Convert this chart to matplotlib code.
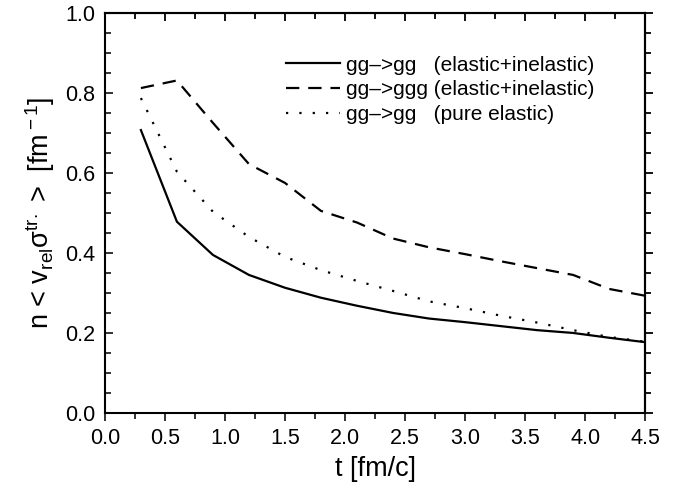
#!/usr/bin/env python3
# -*- coding: utf-8 -*-

"""Transport rate n<v_rel sigma_tr> versus time for three gluon processes"""

import matplotlib
matplotlib.use('Agg')
import matplotlib.pyplot as plt
from matplotlib.ticker import MultipleLocator, FormatStrFormatter

# time [fm/c]
t = [0.3, 0.6, 0.9, 1.2, 1.5, 1.8, 2.1, 2.4, 2.7, 3.0, 3.3, 3.6, 3.9, 4.2, 4.5]

# gg->gg (elastic+inelastic)
gg_el_inel = [0.707, 0.478, 0.395, 0.345, 0.313, 0.288, 0.268, 0.250, 0.236,
              0.227, 0.217, 0.207, 0.200, 0.188, 0.177]
# gg->ggg (elastic+inelastic)
ggg_el_inel = [0.812, 0.831, 0.725, 0.622, 0.575, 0.505, 0.476, 0.436, 0.414,
               0.397, 0.379, 0.362, 0.345, 0.310, 0.293]
# gg->gg (pure elastic)
gg_el = [0.787, 0.603, 0.503, 0.440, 0.390, 0.357, 0.330, 0.305, 0.279,
         0.262, 0.243, 0.226, 0.207, 0.190, 0.178]

labels = ['gg\u2013>gg   (elastic+inelastic)',
          'gg\u2013>ggg (elastic+inelastic)',
          'gg\u2013>gg   (pure elastic)']

plt.rcParams['font.family'] = ['Liberation Sans', 'DejaVu Sans']
plt.rcParams['mathtext.fontset'] = 'custom'
plt.rcParams['mathtext.rm'] = 'Liberation Sans'
plt.rcParams['mathtext.it'] = 'Liberation Sans'

fig = plt.figure(figsize=(6.9, 4.94), dpi=100)
ax = fig.add_axes([0.152, 0.164, 0.783, 0.810])

ax.plot(t, gg_el_inel, color='black', linewidth=1.6, label=labels[0])
ax.plot(t, ggg_el_inel, color='black', linewidth=1.6, linestyle=(0, (6, 4)), label=labels[1])
ax.plot(t, gg_el, color='black', linewidth=1.6, linestyle=(0, (1, 5)), label=labels[2])

ax.set_xlim(0, 4.5)
ax.set_ylim(0, 1.0)
ax.xaxis.set_major_locator(MultipleLocator(0.5))
ax.xaxis.set_minor_locator(MultipleLocator(0.25))
ax.yaxis.set_major_locator(MultipleLocator(0.2))
ax.yaxis.set_minor_locator(MultipleLocator(0.05))
ax.xaxis.set_major_formatter(FormatStrFormatter('%.1f'))
ax.yaxis.set_major_formatter(FormatStrFormatter('%.1f'))

for s in ax.spines.values():
    s.set_linewidth(1.5)

# left/top ticks point inward, bottom/right outward (all same direction)
ax.tick_params(axis='both', which='both', labelsize=15.5, width=1.3, colors='#222222',
               labelcolor='black')
ax.tick_params(axis='both', which='major', length=6)
ax.tick_params(axis='both', which='minor', length=4)
ax.tick_params(axis='x', which='both', direction='out', top=False, pad=4.5)
ax.tick_params(axis='y', which='both', direction='in', right=False, pad=7)

secx = ax.secondary_xaxis('top')
secx.xaxis.set_major_locator(MultipleLocator(0.5))
secx.xaxis.set_minor_locator(MultipleLocator(0.25))
secx.tick_params(which='both', direction='in', labeltop=False, width=1.3)
secx.tick_params(which='major', length=6)
secx.tick_params(which='minor', length=4)
secx.spines['top'].set_linewidth(1.5)

secy = ax.secondary_yaxis('right')
secy.yaxis.set_major_locator(MultipleLocator(0.2))
secy.yaxis.set_minor_locator(MultipleLocator(0.05))
secy.tick_params(which='both', direction='out', labelright=False, width=1.3)
secy.tick_params(which='major', length=6)
secy.tick_params(which='minor', length=4)
secy.spines['right'].set_linewidth(1.5)

ax.set_xlabel('t [fm/c]', fontsize=19.5, labelpad=5)
ax.set_ylabel('n < v$_{\\rm rel}$\u03c3$^{\\rm tr.}$ >  [fm$^{\\rm -1}$]', fontsize=19.5, labelpad=6)

ax.legend(loc='upper left', bbox_to_anchor=(0.30, 0.94), frameon=False, fontsize=15,
          handlelength=2.6, handletextpad=0.3, labelspacing=0.28)

fig.savefig('out.png', dpi=100)
